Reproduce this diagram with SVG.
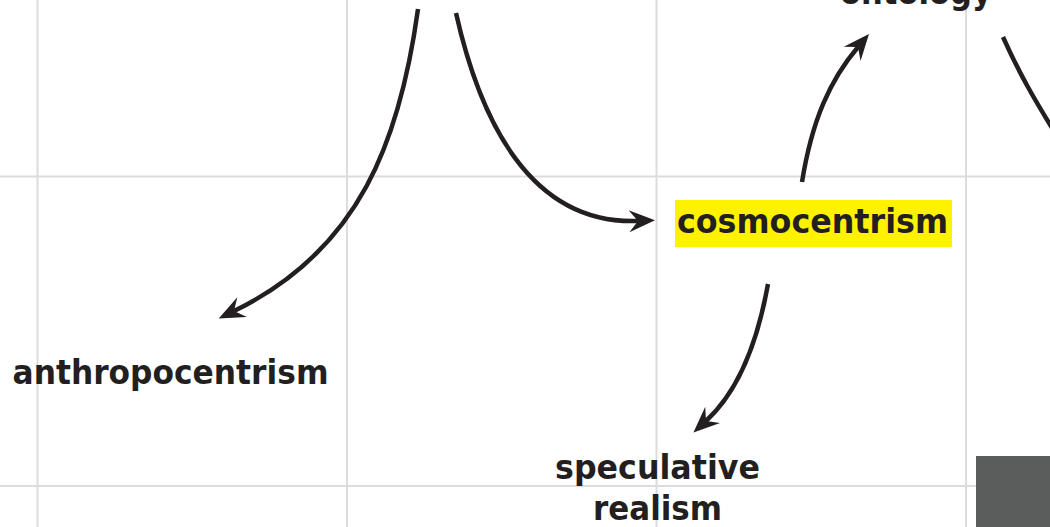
<svg xmlns="http://www.w3.org/2000/svg" width="1050" height="527" viewBox="0 0 1050 527">
  <style>
    .grid { stroke: #dcdcdc; stroke-width: 2; fill: none; }
    .lbl { font-family: "DejaVu Sans", "Liberation Sans", sans-serif; font-weight: bold; font-size: 33px; fill: #231f20; }
    .conn { stroke: #231f20; stroke-width: 4.5; fill: none; }
  </style>
  <defs>
    <marker id="ah" markerUnits="userSpaceOnUse" viewBox="-10 -12 30 24" refX="0" refY="0" markerWidth="30" markerHeight="24" orient="auto" overflow="visible">
      <path d="M17,0 L-9,-11 L0,0 L-9,11 Z" fill="#231f20"/>
    </marker>
  </defs>
  <rect width="1050" height="527" fill="#ffffff"/>
  <g id="grid">
    <line class="grid" x1="37.5" y1="0" x2="37.5" y2="527"/>
    <line class="grid" x1="347" y1="0" x2="347" y2="527"/>
    <line class="grid" x1="656.5" y1="0" x2="656.5" y2="527"/>
    <line class="grid" x1="966" y1="0" x2="966" y2="527"/>
    <line class="grid" x1="0" y1="176.5" x2="1050" y2="176.5"/>
    <line class="grid" x1="0" y1="486" x2="1050" y2="486"/>
  </g>
  <rect x="976" y="456" width="74" height="71" fill="#5b5d5c"/>
  <g id="connectors">
    <path class="conn" d="M418,9 C400,140 360,250 234,311" marker-end="url(#ah)"/>
    <path class="conn" d="M456,13 C480,120 530,225 638,221" marker-end="url(#ah)"/>
    <path class="conn" d="M802,182 C812,120 830,80 858,47" marker-end="url(#ah)"/>
    <path class="conn" d="M768,284 C758,340 740,390 706,421" marker-end="url(#ah)"/>
    <path class="conn" d="M1003,37 C1020,75 1035,100 1052,128"/>
  </g>
  <g id="node-ontology">
    <text class="lbl" x="840" y="4" textLength="152" lengthAdjust="spacingAndGlyphs">ontology</text>
  </g>
  <g id="node-cosmocentrism">
    <rect x="675" y="200" width="277" height="47" fill="#fff200"/>
    <text class="lbl" x="677" y="233" textLength="271" lengthAdjust="spacingAndGlyphs">cosmocentrism</text>
  </g>
  <g id="node-anthropocentrism">
    <text class="lbl" x="12.5" y="384" textLength="316" lengthAdjust="spacingAndGlyphs">anthropocentrism</text>
  </g>
  <g id="node-speculative-realism">
    <text class="lbl" x="555" y="479" textLength="205" lengthAdjust="spacingAndGlyphs">speculative</text>
    <text class="lbl" x="593" y="520" textLength="129" lengthAdjust="spacingAndGlyphs">realism</text>
  </g>
</svg>
